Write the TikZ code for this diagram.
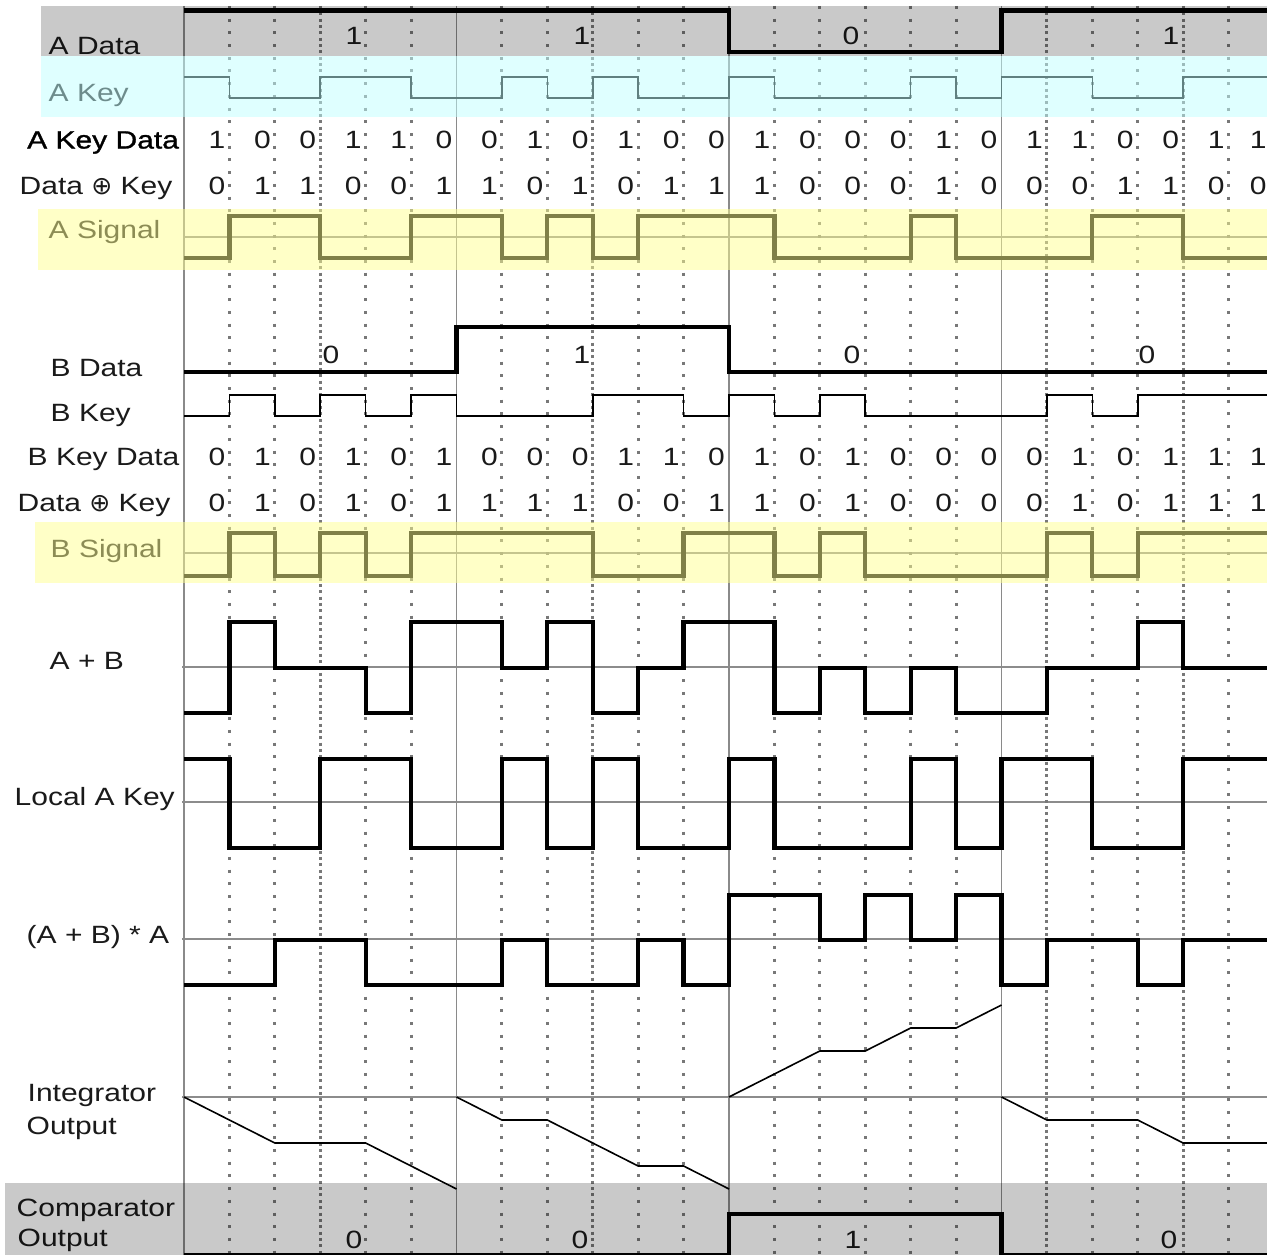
\documentclass[tikz,border=0pt]{standalone}
\usepackage{fontspec}
\setmainfont{Liberation Sans}[FakeStretch=1.2]
\newfontfamily\symf{DejaVu Sans}
\newfontfamily\boldish{Liberation Sans}[FakeStretch=1.2,FakeBold=1.2]
\definecolor{txt}{HTML}{1A1A1A}
\definecolor{gridc}{HTML}{787878}
\definecolor{vline}{HTML}{8A8A8A}
\definecolor{refc}{HTML}{8C8C8C}
\definecolor{cyanb}{HTML}{C1FFFF}
\definecolor{yelb}{HTML}{FFFF90}
\newcommand\labfont{\fontsize{25}{30}\selectfont}
\tikzset{
  griddot/.style={draw=gridc, line width=3pt, dash pattern=on 3pt off 9.7pt},
  griddoth/.style={draw=gridc, line width=3pt, dash pattern=on 3pt off 3.35pt},
  bitline/.style={draw=vline, line width=1.3pt},
  refline/.style={draw=refc, line width=1.2pt},
  wave/.style={draw=black, line width=4.3pt, line join=miter},
  thinwave/.style={draw=black, line width=1.6pt, line join=miter},
  lbl/.style={anchor=base west, inner sep=0pt, font=\labfont, text=txt},
  dig/.style={anchor=base, inner sep=0pt, font=\labfont, text=txt},
}
\begin{document}
\begin{tikzpicture}[x=1pt, y=-1pt]
\useasboundingbox (0,0) rectangle (1267,1255);
\clip (0,0) rectangle (1267,1255);
\fill[white] (0,0) rectangle (1267,1255);

% horizontal reference lines
\draw[refline] (184,237) -- (1267,237);
\draw[refline] (184,553) -- (1267,553);
\draw[refline] (182,667) -- (1267,667);
\draw[refline] (182,802) -- (1267,802);
\draw[refline] (182,939) -- (1267,939);
\draw[refline] (182,1097) -- (1267,1097);

\begin{scope}[xshift=184pt, x=45.41667pt, y=-1pt]
  % chip grid
  \foreach \k in {1,2,4,5,7,8,10,11,13,14,15,16,17,20,21,23}
    \draw[griddot] (\k,6) -- (\k,1255);
  \foreach \k in {3,9,19,22}
    \draw[griddoth] (\k,6) -- (\k,1255);
  % bit boundaries
  \foreach \k in {0,6,12,18}
    \draw[bitline] (\k,6) -- (\k,1255);

  % A Data
  \draw[wave] (0,10.5) -| (12,52) -| (18,10.5) -- (24,10.5);
  % A Key
  \draw[thinwave] (0,77) -| (1,98) -| (3,77) -| (5,98) -| (7,77) -| (8,98) -| (9,77) -| (10,98) -| (12,77) -| (13,98) -| (16,77) -| (17,98) -| (18,77) -| (20,98) -| (22,77) -- (24,77);
  % A Key Data / Data xor Key
  \foreach \v [count=\i from 0] in {1,0,0,1,1,0,0,1,0,1,0,0,1,0,0,0,1,0,1,1,0,0,1}
    \node[dig] (akd\i) at (\i+0.725,148.5) {\v};
  \node[dig] (akd23) at (23.65,148.5) {1};
  \foreach \v [count=\i from 0] in {0,1,1,0,0,1,1,0,1,0,1,1,1,0,0,0,1,0,0,0,1,1,0}
    \node[dig] (axk\i) at (\i+0.725,194) {\v};
  \node[dig] (axk23) at (23.65,194) {0};
  % A Signal
  \draw[wave] (0,258) -| (1,216) -| (3,258) -| (5,216) -| (7,258) -| (8,216) -| (9,258) -| (10,216) -| (13,258) -| (16,216) -| (17,258) -| (20,216) -| (22,258) -- (24,258);

  % B Data
  \draw[wave] (0,372) -| (6,327) -| (12,372) -- (24,372);
  % B Key
  \draw[thinwave] (0,416) -| (1,395) -| (2,416) -| (3,395) -| (4,416) -| (5,395) -| (6,416) -| (9,395) -| (11,416) -| (12,395) -| (13,416) -| (14,395) -| (15,416) -| (19,395) -| (20,416) -| (21,395) -- (24,395);
  \foreach \v [count=\i from 0] in {0,1,0,1,0,1,0,0,0,1,1,0,1,0,1,0,0,0,0,1,0,1,1}
    \node[dig] (bkd\i) at (\i+0.725,465) {\v};
  \node[dig] (bkd23) at (23.65,465) {1};
  \foreach \v [count=\i from 0] in {0,1,0,1,0,1,1,1,1,0,0,1,1,0,1,0,0,0,0,1,0,1,1}
    \node[dig] (bxk\i) at (\i+0.725,511) {\v};
  \node[dig] (bxk23) at (23.65,511) {1};
  % B Signal
  \draw[wave] (0,576) -| (1,533) -| (2,576) -| (3,533) -| (4,576) -| (5,533) -| (9,576) -| (11,533) -| (13,576) -| (14,533) -| (15,576) -| (19,533) -| (20,576) -| (21,533) -- (24,533);

  % A + B
  \draw[wave] (0,713) -| (1,622) -| (2,668) -| (4,713) -| (5,622) -| (7,668) -| (8,622) -| (9,713) -| (10,668) -| (11,622) -| (13,713) -| (14,668) -| (15,713) -| (16,668) -| (17,713) -| (19,668) -| (21,622) -| (22,668) -- (24,668);
  % Local A Key
  \draw[wave] (0,759) -| (1,848) -| (3,759) -| (5,848) -| (7,759) -| (8,848) -| (9,759) -| (10,848) -| (12,759) -| (13,848) -| (16,759) -| (17,848) -| (18,759) -| (20,848) -| (22,759) -- (24,759);
  % (A + B) * A
  \draw[wave] (0,985) -| (2,940) -| (4,985) -| (7,940) -| (8,985) -| (10,940) -| (11,985) -| (12,895) -| (14,940) -| (15,895) -| (16,940) -| (17,895) -| (18,985) -| (19,940) -| (21,985) -| (22,940) -- (24,940);

  % Integrator output
  \draw[thinwave] (0,1097) -- (2,1143) -- (4,1143) -- (6,1189);
  \draw[thinwave] (6,1097) -- (7,1120) -- (8,1120) -- (10,1166) -- (11,1166) -- (12,1189);
  \draw[thinwave] (12,1097) -- (14,1051) -- (15,1051) -- (16,1028) -- (17,1028) -- (18,1005);
  \draw[thinwave] (18,1097) -- (19,1120) -- (21,1120) -- (22,1143) -- (24,1143);

  % Comparator output
  \draw[wave] (0,1255) -| (12,1214) -| (18,1255) -- (24,1255);
\end{scope}

% bit value labels
\node[dig] (ad1) at (354,45) {1};
\node[dig] (ad2) at (582,45) {1};
\node[dig] (ad3) at (851,45) {0};
\node[dig] (ad4) at (1171,45) {1};
\node[dig] (bd1) at (331,363) {0};
\node[dig] (bd2) at (582,363) {1};
\node[dig] (bd3) at (852,363) {0};
\node[dig] (bd4) at (1147,363) {0};
\node[dig] (co1) at (354,1248) {0};
\node[dig] (co2) at (580,1248) {0};
\node[dig] (co3) at (853,1248) {1};
\node[dig] (co4) at (1169,1248) {0};

% row labels
\node[lbl] (lAData) at (48.5,55) {A Data};
\node[lbl] (lAKey) at (48.5,102) {A Key};
\node[lbl, font=\labfont\boldish, text=black] (lAKD) at (27,148.5) {A Key Data};
\node[lbl] (lAXK) at (19.5,194) {Data {\symf ⊕} Key};
\node[lbl] (lASig) at (48.5,238) {A Signal};
\node[lbl] (lBData) at (50.5,376) {B Data};
\node[lbl] (lBKey) at (50.5,421) {B Key};
\node[lbl] (lBKD) at (27.5,465) {B Key Data};
\node[lbl] (lBXK) at (17.5,511) {Data {\symf ⊕} Key};
\node[lbl] (lBSig) at (50.5,557) {B Signal};
\node[lbl] (lAB) at (49.5,669) {A + B};
\node[lbl] (lLAK) at (14.5,805) {Local A Key};
\node[lbl] (lABA) at (26.5,943) {(A + B) * A};
\node[lbl] (lInt1) at (27.5,1101) {Integrator};
\node[lbl] (lInt2) at (26.5,1134) {Output};
\node[lbl] (lCmp1) at (16.5,1216) {Comparator};
\node[lbl] (lCmp2) at (17.5,1246) {Output};

% translucent bands on top
\fill[black, opacity=0.21] (41,6) rectangle (1267,56);
\fill[cyanb, opacity=0.5] (41,56) rectangle (1267,117);
\fill[yelb, opacity=0.5] (38,209) rectangle (1267,270);
\fill[yelb, opacity=0.5] (35,522) rectangle (1267,583);
\fill[black, opacity=0.21] (5,1183) rectangle (1267,1255);
\end{tikzpicture}
\end{document}
